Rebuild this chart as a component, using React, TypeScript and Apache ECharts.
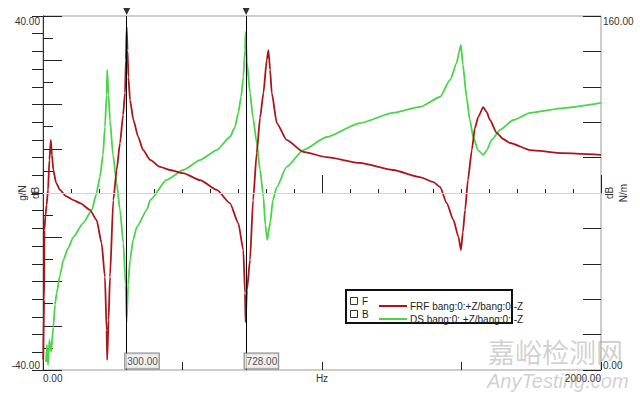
import React, { useEffect, useRef } from "react";
import * as echarts from "echarts";

// FRF curve (red), frequency in Hz and level in dB (left axis)
const redHz = [1, 4, 5, 9, 13, 18, 23, 28, 32, 37, 47, 61, 82, 109, 133, 168, 192, 210, 222, 228, 230, 235, 240, 252, 264, 276, 287, 294, 297, 300, 303, 306, 312, 324, 341, 359, 384, 419, 455, 502, 563, 623, 670, 700, 718, 724, 726, 731, 742, 753, 766, 778, 790, 802, 808, 814, 820, 838, 873, 933, 1017, 1136, 1254, 1351, 1398, 1423, 1447, 1471, 1489, 1498, 1505, 1513, 1523, 1537, 1548, 1560, 1578, 1590, 1602, 1626, 1649, 1674, 1746, 1864, 2000];
const redDb = [-37.7, -24.2, -8.4, -5.0, -2.7, 0.7, 7.5, 12.0, 8.6, 5.2, 2.3, 0.7, -0.7, -1.6, -2.3, -3.8, -6.1, -11.3, -19.0, -31.0, -37.7, -28.7, -19.0, -1.6, 5.2, 11.3, 17.6, 22.6, 30.1, 37.5, 32.3, 26.2, 21.0, 16.5, 12.7, 9.7, 7.5, 5.9, 5.2, 4.5, 2.9, 0.7, -2.3, -6.8, -12.9, -22.6, -29.2, -21.9, -15.1, -1.6, 9.0, 17.0, 22.6, 30.1, 32.3, 27.8, 22.6, 15.8, 12.0, 9.3, 8.1, 6.8, 5.2, 3.6, 2.5, 1.4, -2.3, -6.1, -9.9, -12.9, -8.8, -3.8, 2.9, 9.7, 14.7, 17.2, 19.4, 18.3, 16.5, 13.6, 12.2, 11.3, 9.7, 9.0, 8.6];

// DS curve (green), frequency in Hz and value on the right axis
const greenHz = [11, 14, 18, 23, 29, 37, 43, 49, 61, 73, 90, 109, 144, 175, 190, 204, 215, 222, 228, 230, 235, 240, 251, 264, 276, 288, 296, 300, 305, 312, 323, 336, 372, 384, 443, 503, 563, 623, 670, 688, 700, 710, 718, 724, 726, 731, 742, 753, 766, 778, 790, 797, 804, 808, 814, 824, 838, 873, 933, 1017, 1136, 1254, 1351, 1423, 1459, 1483, 1491, 1498, 1505, 1518, 1530, 1542, 1559, 1578, 1591, 1608, 1638, 1686, 1746, 1865, 2000];
const greenVal = [3.6, 11.3, 2.3, 13.6, 8.1, 19.4, 29.4, 34.8, 42.9, 49.7, 55.1, 60.1, 66.4, 72.3, 79.1, 87.2, 97.2, 109.8, 124.3, 135.6, 124.3, 113.0, 97.2, 84.5, 72.3, 57.4, 38.4, 21.7, 38.4, 49.7, 58.8, 64.6, 72.3, 76.8, 85.9, 90.4, 94.9, 99.4, 105.3, 109.8, 116.2, 123.4, 132.4, 144.6, 152.8, 139.2, 125.2, 113.9, 102.6, 90.4, 78.2, 65.5, 58.8, 62.4, 66.4, 76.8, 82.7, 91.8, 99.4, 105.3, 111.6, 116.2, 118.9, 123.4, 131.1, 138.8, 143.7, 146.9, 137.9, 123.4, 113.0, 105.3, 99.4, 97.2, 99.4, 104.0, 108.5, 113.0, 116.2, 118.4, 120.7];

// Cursors
const cursorHz = [300, 728];

const redName = "FRF bang:0:+Z/bang:0:-Z";
const greenName = "DS bang:0: +Z/bang:0: -Z";

const FONT = 'Arial, "Liberation Sans", sans-serif';
const RED = "#ac1419";
const GREEN = "#4ad44a";

export default function App() {
  const ref = useRef<HTMLDivElement>(null);

  useEffect(() => {
    if (!ref.current) return;
    const chart = echarts.init(ref.current, undefined, { renderer: "svg" });

    const redData = redHz.map((f, i) => [f, redDb[i]]);
    const greenData = greenHz.map((f, i) => [f, greenVal[i]]);

    const hideAxis = { show: false };
    const xBase = {
      type: "value",
      min: 0,
      max: 2000,
      gridIndex: 0,
      position: "bottom",
      splitLine: hideAxis,
    };

    const option: any = {
      animation: false,
      backgroundColor: "#ffffff",
      grid: {
        left: 43,
        right: 39,
        top: 16,
        bottom: 24,
        show: true,
        borderColor: "#9a9a9a",
        borderWidth: 1,
        backgroundColor: "#ffffff",
      },
      legend: {
        orient: "vertical",
        left: 374,
        top: 295,
        itemWidth: 28,
        itemHeight: 2,
        itemGap: 1,
        icon: "rect",
        data: [redName, greenName],
        textStyle: { color: "#222", fontSize: 10, fontFamily: FONT, lineHeight: 12, padding: [0, 0, 0, -2] },
        selectedMode: false,
        z: 20,
      },
      xAxis: [
        {
          ...xBase,
          interval: 100,
          axisLine: { show: true, lineStyle: { color: "#555", width: 1 } },
          axisTick: { show: true, inside: true, length: 4, lineStyle: { color: "#222" } },
          axisLabel: {
            show: true,
            margin: 3,
            color: "#333",
            fontSize: 10,
            fontFamily: FONT,
            showMinLabel: true,
            showMaxLabel: true,
            alignMinLabel: "left",
            alignMaxLabel: "right",
            formatter: (v: number) =>
              v === 0 ? "0.00" : v === 2000 ? "2000.00" : v === 1000 ? "Hz" : "",
          },
        },
        {
          ...xBase,
          interval: 500,
          axisLine: hideAxis,
          axisTick: { show: true, inside: true, length: 8, lineStyle: { color: "#222" } },
          axisLabel: hideAxis,
        },
        {
          ...xBase,
          interval: 1000,
          axisLine: hideAxis,
          axisTick: { show: true, inside: true, length: 18, lineStyle: { color: "#222" } },
          axisLabel: hideAxis,
        },
      ],
      yAxis: [
        {
          type: "value",
          position: "left",
          min: -40,
          max: 40,
          interval: 5,
          splitLine: hideAxis,
          axisLine: { show: true, lineStyle: { color: "#777" } },
          axisTick: { show: true, inside: true, length: 10, lineStyle: { color: "#222" } },
          axisLabel: {
            margin: 3,
            color: "#333",
            fontSize: 10,
            fontFamily: FONT,
            showMinLabel: true,
            showMaxLabel: true,
            verticalAlignMaxLabel: "top",
            verticalAlignMinLabel: "bottom",
            formatter: (v: number) => (v === 40 ? "40.00" : v === -40 ? "-40.00" : ""),
          },
        },
        {
          type: "value",
          position: "right",
          min: 0,
          max: 160,
          interval: 8,
          splitLine: hideAxis,
          axisLine: { show: true, lineStyle: { color: "#333" } },
          axisTick: { show: true, inside: true, length: 11, lineStyle: { color: "#222" } },
          axisLabel: {
            margin: 2,
            color: "#333",
            fontSize: 10,
            fontFamily: FONT,
            showMinLabel: true,
            showMaxLabel: true,
            verticalAlignMaxLabel: "top",
            verticalAlignMinLabel: "bottom",
            formatter: (v: number) => (v === 160 ? "160.00" : v === 0 ? "0.00" : ""),
          },
        },
        {
          type: "value",
          position: "left",
          min: -40,
          max: 40,
          interval: 10,
          splitLine: hideAxis,
          axisLine: hideAxis,
          axisLabel: hideAxis,
          axisTick: { show: true, inside: true, length: 19, lineStyle: { color: "#222" } },
        },
        {
          type: "value",
          position: "right",
          min: 0,
          max: 160,
          interval: 16,
          splitLine: hideAxis,
          axisLine: hideAxis,
          axisLabel: hideAxis,
          axisTick: { show: true, inside: true, length: 18, lineStyle: { color: "#222" } },
        },
      ],
      series: [
        {
          name: greenName,
          type: "line",
          xAxisIndex: 0,
          yAxisIndex: 1,
          data: greenData,
          showSymbol: false,
          symbol: "none",
          smooth: 0.2,
          smoothMonotone: "x",
          lineStyle: { color: GREEN, width: 1.8 },
          itemStyle: { color: GREEN },
          z: 3,
        },
        {
          name: redName,
          type: "line",
          xAxisIndex: 0,
          yAxisIndex: 0,
          data: redData,
          showSymbol: false,
          symbol: "none",
          smooth: 0.2,
          smoothMonotone: "x",
          lineStyle: { color: RED, width: 1.8 },
          itemStyle: { color: RED },
          z: 4,
          markLine: {
            silent: true,
            symbol: ["none", "none"],
            label: { show: false },
            data: [
              { yAxis: 0, lineStyle: { color: "#d4d4d4", width: 1, type: "solid" } },
              ...cursorHz.map((f) => ({
                xAxis: f,
                lineStyle: { color: "#000", width: 1, type: "solid" },
              })),
            ],
          },
        },
        {
          name: "cursorTop",
          type: "scatter",
          xAxisIndex: 0,
          yAxisIndex: 0,
          clip: false,
          silent: true,
          symbol: "triangle",
          symbolRotate: 180,
          symbolSize: [7, 7],
          symbolOffset: [0, -4.5],
          itemStyle: { color: "#000" },
          data: cursorHz.map((f) => [f, 40]),
          z: 6,
        },
        {
          name: "cursorLabel",
          type: "scatter",
          xAxisIndex: 0,
          yAxisIndex: 0,
          clip: false,
          silent: true,
          symbolSize: 1,
          itemStyle: { color: "rgba(0,0,0,0)" },
          data: cursorHz.map((f) => [f, -40]),
          label: {
            show: true,
            position: [-1, -16],
            align: "left",
            verticalAlign: "top",
            formatter: (p: any) => p.value[0].toFixed(2),
            fontSize: 10,
            fontFamily: FONT,
            color: "#222",
            lineHeight: 12,
            padding: [2, 1, 1, 2],
            backgroundColor: "#ececec",
            borderColor: "#666",
            borderWidth: 1,
          },
          z: 7,
        },
      ],
      graphic: [
        // legend frame
        {
          type: "rect",
          shape: { x: 346, y: 290, width: 166, height: 33 },
          style: { fill: "#fff", stroke: "#111", lineWidth: 2 },
          z: 10,
        },
        {
          type: "rect",
          shape: { x: 350.5, y: 297.5, width: 7, height: 7 },
          style: { fill: "#fff", stroke: "#333", lineWidth: 1 },
          z: 11,
        },
        {
          type: "rect",
          shape: { x: 350.5, y: 310.5, width: 7, height: 7 },
          style: { fill: "#fff", stroke: "#333", lineWidth: 1 },
          z: 11,
        },
        {
          type: "text",
          x: 362,
          y: 301,
          style: { text: "F", fill: "#222", font: `10px ${FONT}`, verticalAlign: "middle" },
          z: 11,
        },
        {
          type: "text",
          x: 362,
          y: 314,
          style: { text: "B", fill: "#222", font: `10px ${FONT}`, verticalAlign: "middle" },
          z: 11,
        },
        // unit labels
        {
          type: "text",
          x: 22,
          y: 193,
          rotation: Math.PI / 2,
          style: { text: "g/N", fill: "#333", font: `10px ${FONT}`, align: "center", verticalAlign: "middle" },
        },
        {
          type: "text",
          x: 35,
          y: 193,
          rotation: Math.PI / 2,
          style: { text: "dB", fill: "#333", font: `10px ${FONT}`, align: "center", verticalAlign: "middle" },
        },
        {
          type: "text",
          x: 609,
          y: 193,
          rotation: Math.PI / 2,
          style: { text: "dB", fill: "#333", font: `10px ${FONT}`, align: "center", verticalAlign: "middle" },
        },
        {
          type: "text",
          x: 623,
          y: 193,
          rotation: Math.PI / 2,
          style: { text: "N/m", fill: "#333", font: `10px ${FONT}`, align: "center", verticalAlign: "middle" },
        },
        // watermark
        {
          type: "text",
          x: 488,
          y: 351,
          style: {
            text: "嘉峪检测网",
            fill: "rgba(150,150,150,0.45)",
            font: `27px "Noto Sans CJK SC", sans-serif`,
            verticalAlign: "middle",
          },
          z: 50,
        },
        {
          type: "text",
          x: 487,
          y: 381,
          style: {
            text: "AnyTesting.com",
            fill: "rgba(150,150,150,0.45)",
            font: `italic 20px ${FONT}`,
            verticalAlign: "middle",
          },
          z: 50,
        },
      ],
    };

    chart.setOption(option);
    return () => chart.dispose();
  }, []);

  return (
    <div
      ref={ref}
      style={{ position: "fixed", left: 0, top: 0, width: 640, height: 394, background: "#fff" }}
    />
  );
}
